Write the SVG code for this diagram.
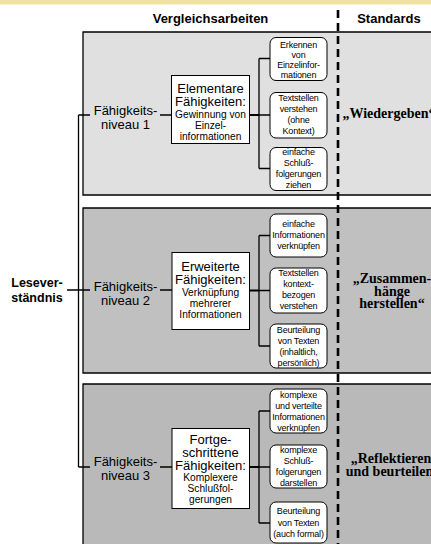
<svg xmlns="http://www.w3.org/2000/svg" width="431" height="544" viewBox="0 0 431 544">
<style>
.sans{font-family:"Liberation Sans",Arial,sans-serif;text-anchor:middle;fill:#000}
.hdr{font-size:13px;font-weight:bold}
.lvl{font-size:13px}
.big{font-size:13px}
.sub{font-size:10.2px}
.sm{font-size:9px;letter-spacing:-0.2px}
.std{font-family:"Liberation Serif","Times New Roman",serif;font-weight:bold;font-size:14px;text-anchor:middle;fill:#000}
.bl{fill:none;stroke:#000;stroke-width:1.3}
.box{fill:#fff;stroke:#000;stroke-width:1}
.sbox{fill:#fff;stroke:#000;stroke-width:1}
.c{fill:none;stroke:#000;stroke-width:1.3}
.ct{fill:none;stroke:#000;stroke-width:2}
.dash{fill:none;stroke:#000;stroke-width:2.6;stroke-dasharray:8 5}
</style>
<rect x="0" y="0" width="431" height="544" fill="#fff"/>
<rect x="0" y="0" width="431" height="4.5" fill="#f1e1a2"/>

<g id="bands">
<rect x="83" y="32" width="348" height="163" fill="#e0e0e0"/>
<path class="bl" d="M431,32 H83 V195 H431"/>
<rect x="83" y="208" width="348" height="165" fill="#c0c0c0"/>
<path class="bl" d="M431,208 H83 V373 H431"/>
<rect x="83" y="384" width="348" height="160" fill="#b9b9b9"/>
<path class="bl" d="M431,384 H83 V544"/>
</g>

<g id="headers">
<text class="sans hdr" x="210.5" y="22.5">Vergleichsarbeiten</text>
<text class="sans hdr" x="389" y="22.5">Standards</text>
</g>

<g id="connectors">
<path class="dash" d="M338,10 V544"/>
<path class="c" d="M67,290 H90 M78.5,115 V467 M78.5,115 H90 M78.5,467 H90"/>
<path class="c" d="M160,115 H171.5 M160,290 H172 M160,467 H172"/>
<path class="ct" d="M249.5,115 H259"/>
<path class="c" d="M259,58.5 V168.5 M259,58.5 H270 M259,168.5 H270 M259,115 H270"/>
<path class="ct" d="M249.5,290.5 H259"/>
<path class="c" d="M259,235.5 V346 M259,235.5 H270 M259,346 H270 M259,290.5 H270"/>
<path class="ct" d="M249.5,467 H259"/>
<path class="c" d="M259,411 V523 M259,411 H270 M259,523 H270 M259,467 H270"/>
</g>

<g id="root">
<text class="sans" style="font-size:12.5px;font-weight:bold" x="37" y="287">Lesever-</text>
<text class="sans" style="font-size:12.5px;font-weight:bold" x="37" y="302">ständnis</text>
</g>

<g id="level1">
<text class="sans lvl" x="125.5" y="115">Fähigkeits-</text>
<text class="sans lvl" x="125.5" y="128.5">niveau 1</text>
</g>
<g id="level2">
<text class="sans lvl" x="125.5" y="291">Fähigkeits-</text>
<text class="sans lvl" x="125.5" y="304.5">niveau 2</text>
</g>
<g id="level3">
<text class="sans lvl" x="125.5" y="466">Fähigkeits-</text>
<text class="sans lvl" x="125.5" y="479.5">niveau 3</text>
</g>

<g id="skill1">
<rect class="box" x="171.5" y="75.5" width="78" height="68"/>
<text class="sans big" x="210.5" y="93">Elementare</text>
<text class="sans big" x="210.5" y="106">Fähigkeiten:</text>
<text class="sans sub" x="210.5" y="117.5">Gewinnung von</text>
<text class="sans sub" x="210.5" y="128.5">Einzel-</text>
<text class="sans sub" x="210.5" y="139.5">informationen</text>
</g>
<g id="skill2">
<rect class="box" x="172" y="252.5" width="77.5" height="77"/>
<text class="sans big" x="210.5" y="271">Erweiterte</text>
<text class="sans big" x="210.5" y="284">Fähigkeiten:</text>
<text class="sans sub" x="210.5" y="295.5">Verknüpfung</text>
<text class="sans sub" x="210.5" y="306.5">mehrerer</text>
<text class="sans sub" x="210.5" y="317.5">Informationen</text>
</g>
<g id="skill3">
<rect class="box" x="172" y="428.5" width="77.5" height="80"/>
<text class="sans big" x="210.5" y="444">Fortge-</text>
<text class="sans big" x="210.5" y="457">schrittene</text>
<text class="sans big" x="210.5" y="470">Fähigkeiten:</text>
<text class="sans sub" x="210.5" y="481">Komplexere</text>
<text class="sans sub" x="210.5" y="492">Schlußfol-</text>
<text class="sans sub" x="210.5" y="503">gerungen</text>
</g>

<g id="sub1a">
<rect class="sbox" x="270" y="37.5" width="57" height="43" rx="6"/>
<text class="sans sm" x="298.5" y="47.5">Erkennen</text>
<text class="sans sm" x="298.5" y="57.5">von</text>
<text class="sans sm" x="298.5" y="67.5">Einzelinfor-</text>
<text class="sans sm" x="298.5" y="77.5">mationen</text>
</g>
<g id="sub1b">
<rect class="sbox" x="270" y="92.5" width="57" height="45.5" rx="6"/>
<text class="sans sm" x="298.5" y="101">Textstellen</text>
<text class="sans sm" x="298.5" y="112">verstehen</text>
<text class="sans sm" x="298.5" y="123">(ohne</text>
<text class="sans sm" x="298.5" y="134">Kontext)</text>
</g>
<g id="sub1c">
<rect class="sbox" x="270" y="147.5" width="57" height="43" rx="6"/>
<text class="sans sm" x="298.5" y="154.5">einfache</text>
<text class="sans sm" x="298.5" y="165.5">Schluß-</text>
<text class="sans sm" x="298.5" y="176.5">folgerungen</text>
<text class="sans sm" x="298.5" y="187.5">ziehen</text>
</g>

<g id="sub2a">
<rect class="sbox" x="270" y="214" width="57" height="43" rx="6"/>
<text class="sans sm" x="298.5" y="227">einfache</text>
<text class="sans sm" x="298.5" y="238">Informationen</text>
<text class="sans sm" x="298.5" y="249">verknüpfen</text>
</g>
<g id="sub2b">
<rect class="sbox" x="270" y="268" width="57" height="45" rx="6"/>
<text class="sans sm" x="298.5" y="276">Textstellen</text>
<text class="sans sm" x="298.5" y="287">kontext-</text>
<text class="sans sm" x="298.5" y="298">bezogen</text>
<text class="sans sm" x="298.5" y="309">verstehen</text>
</g>
<g id="sub2c">
<rect class="sbox" x="270" y="324" width="57" height="44" rx="6"/>
<text class="sans sm" x="298.5" y="333">Beurteilung</text>
<text class="sans sm" x="298.5" y="344">von Texten</text>
<text class="sans sm" x="298.5" y="355">(inhaltlich,</text>
<text class="sans sm" x="298.5" y="366">persönlich)</text>
</g>

<g id="sub3a">
<rect class="sbox" x="270" y="389" width="57" height="44" rx="6"/>
<text class="sans sm" x="298.5" y="398">komplexe</text>
<text class="sans sm" x="298.5" y="409">und verteilte</text>
<text class="sans sm" x="298.5" y="420">Informationen</text>
<text class="sans sm" x="298.5" y="431">verknüpfen</text>
</g>
<g id="sub3b">
<rect class="sbox" x="270" y="445" width="57" height="43" rx="6"/>
<text class="sans sm" x="298.5" y="453">komplexe</text>
<text class="sans sm" x="298.5" y="464">Schluß-</text>
<text class="sans sm" x="298.5" y="475">folgerungen</text>
<text class="sans sm" x="298.5" y="486">darstellen</text>
</g>
<g id="sub3c">
<rect class="sbox" x="270" y="502" width="57" height="41" rx="6"/>
<text class="sans sm" x="298.5" y="514">Beurteilung</text>
<text class="sans sm" x="298.5" y="525.5">von Texten</text>
<text class="sans sm" x="298.5" y="537">(auch formal)</text>
</g>

<g id="standards">
<text class="std" x="389" y="118">„Wiedergeben“</text>
<text class="std" x="392" y="283">„Zusammen-</text>
<text class="std" x="392" y="295.5">hänge</text>
<text class="std" x="392" y="308">herstellen“</text>
<text class="std" x="391" y="463">„Reflektieren</text>
<text class="std" x="393" y="476">und beurteilen“</text>
</g>
</svg>
